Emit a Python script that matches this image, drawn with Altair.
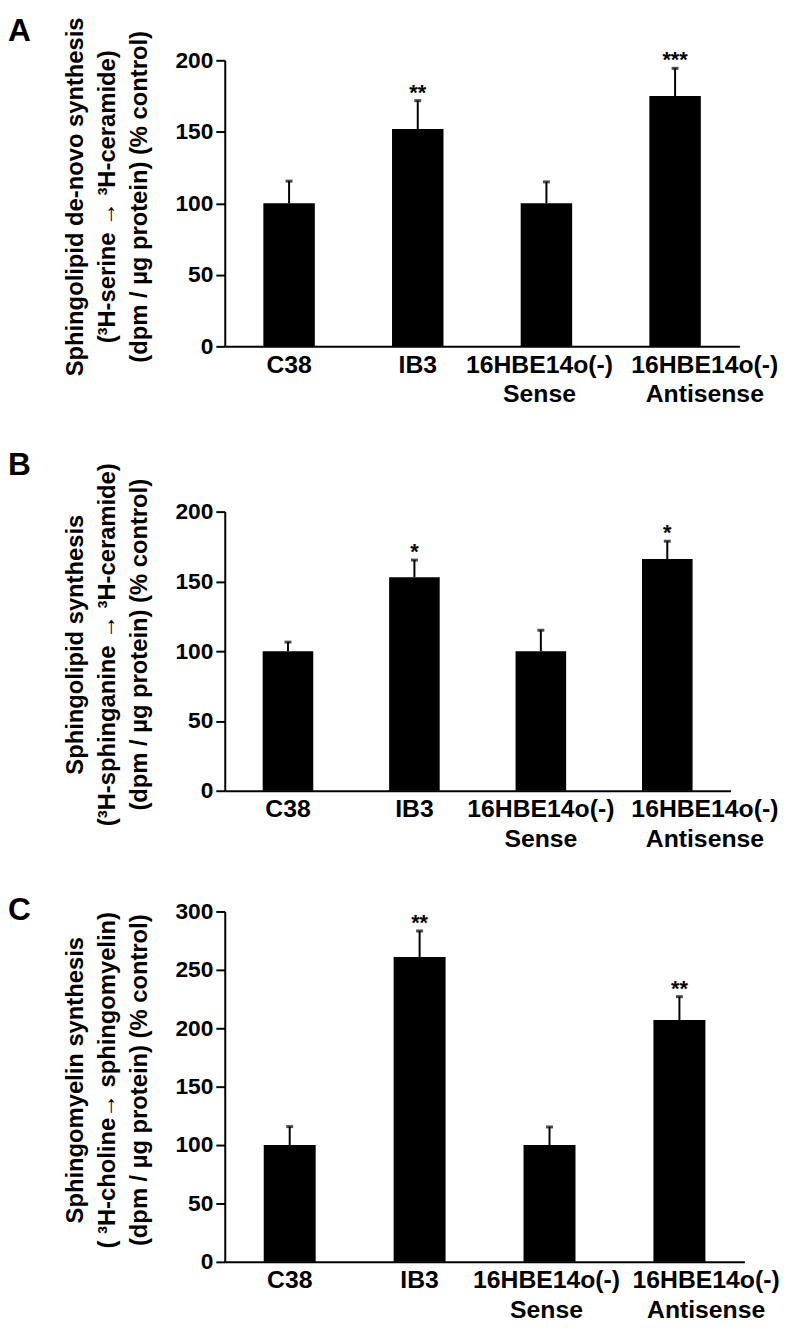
import altair as alt
import pandas as pd

categories = ["C38", "IB3", "16HBE14o(-)|Sense", "16HBE14o(-)|Antisense"]

a_values = [100, 152, 100, 175]
a_errors = [15.5, 19.8, 15.0, 19.4]
a_stars = ["", "**", "", "***"]
a_title = ["Sphingolipid de-novo synthesis", "(³H-serine → ³H-ceramide)", "(dpm / µg protein) (% control)"]

b_values = [100, 153, 100, 166]
b_errors = [6.5, 12.3, 15.0, 12.8]
b_stars = ["", "*", "", "*"]
b_title = ["Sphingolipid synthesis", "(³H-sphinganine → ³H-ceramide)", "(dpm / µg protein) (% control)"]

c_values = [100, 261, 100, 207]
c_errors = [15.8, 22.3, 15.5, 20.1]
c_stars = ["", "**", "", "**"]
c_title = ["Sphingomyelin  synthesis", "( ³H-choline→ sphingomyelin)", "(dpm / µg protein) (% control)"]

FONT = "Liberation Sans"


def panel(letter, values, errors, stars, ymax, title, width, plot_h, extra_top,
          letter_x, letter_y, sense_off, anti_off):
    df = pd.DataFrame({
        "cat": categories,
        "value": values,
        "top": [v + e for v, e in zip(values, errors)],
        "star": stars,
    })
    total_h = plot_h + extra_top
    label_offset = {
        "condition": [
            {"test": "datum.value == '16HBE14o(-)|Sense'", "value": sense_off},
            {"test": "datum.value == '16HBE14o(-)|Antisense'", "value": anti_off},
        ],
        "value": 0,
    }
    x = alt.X(
        "cat:N", sort=categories,
        scale=alt.Scale(paddingInner=0.6, paddingOuter=0.3),
        axis=alt.Axis(
            title=None, labelAngle=0, labelExpr="split(datum.label, '|')",
            ticks=False, domainWidth=2, domainColor="black",
            labelFont=FONT, labelFontSize=25, labelFontWeight="bold", labelColor="black",
            labelLineHeight=30, labelPadding=6, labelOffset=label_offset,
        ),
    )
    yscale = alt.Scale(domain=[0, ymax], nice=False, range=[total_h, extra_top])
    y = alt.Y(
        "value:Q", scale=yscale,
        axis=alt.Axis(
            values=list(range(0, ymax + 1, 50)), title=title, grid=False,
            domainWidth=2, domainColor="black", tickWidth=2, tickSize=9, tickColor="black",
            labelFont=FONT, labelFontSize=23, labelFontWeight="bold", labelColor="black", labelPadding=3,
            titleFont=FONT, titleFontSize=24, titleFontWeight="bold", titleColor="black",
            titleLineHeight=32, titlePadding=24, titleY=extra_top + plot_h / 2 - 7,
        ),
    )
    base = alt.Chart(df)
    bars = base.mark_bar(color="black").encode(x=x, y=y)
    rule = base.mark_rule(color="black", strokeWidth=2).encode(x=x, y="value:Q", y2="top:Q")
    cap = base.mark_tick(color="black", size=7, thickness=3).encode(x=x, y="top:Q")
    txt = base.mark_text(font=FONT, fontSize=22, fontWeight="bold", baseline="alphabetic", dy=-1, color="black").encode(
        x=x, y="top:Q", text="star:N")
    lab = alt.Chart(pd.DataFrame({"t": [letter]})).mark_text(
        font=FONT, fontSize=32, fontWeight="bold", align="left", baseline="top", color="black"
    ).encode(text="t:N", x=alt.value(letter_x), y=alt.value(letter_y))
    return alt.layer(bars, rule, cap, txt, lab).properties(width=width, height=total_h)


pa = panel("A", a_values, a_errors, a_stars, 200, a_title, 520, 289, 0, -219, -45, -7, 30)
pb = panel("B", b_values, b_errors, b_stars, 200, b_title, 511, 282, 45, -219, -17, 0, 38)
pc = panel("C", c_values, c_errors, c_stars, 300, c_title, 525, 354, 0, -219, -16, -3, 27)

chart = alt.vconcat(pa, pb, pc, spacing=122, bounds="flush").configure_view(stroke=None).properties(padding=0)

chart.save("out.html", embed_options={"renderer": "svg", "actions": False})
